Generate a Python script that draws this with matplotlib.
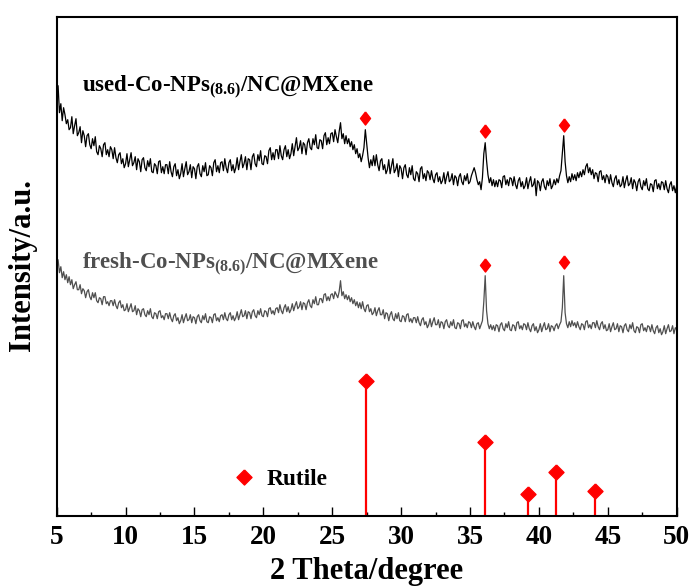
import numpy as np
import matplotlib
matplotlib.use("Agg")
import matplotlib.pyplot as plt
from matplotlib.lines import Line2D
from matplotlib.ticker import MultipleLocator

# ---------------- data ----------------
two_theta_start = 5.0
two_theta_stop = 50.0

# one row = 1 degree (0.1 degree steps), last value at 50.0
used_intensity = [
    418, 430, 403, 412, 395, 408, 401, 392, 396, 386,
    388, 399, 382, 390, 397, 380, 383, 389, 373, 385,
    380, 369, 380, 382, 371, 367, 377, 370, 379, 364,
    361, 370, 367, 359, 371, 373, 361, 366, 359, 369,
    366, 357, 368, 358, 353, 361, 363, 352, 357, 348,
    352, 362, 349, 356, 363, 350, 353, 359, 346, 357,
    354, 344, 356, 358, 348, 345, 355, 349, 357, 344,
    343, 352, 350, 342, 354, 355, 343, 349, 342, 351,
    351, 342, 354, 344, 339, 349, 352, 340, 346, 337,
    342, 352, 339, 347, 354, 341, 344, 351, 338, 349,
    347, 337, 349, 352, 342, 339, 350, 344, 353, 340,
    341, 350, 348, 340, 353, 356, 344, 350, 343, 353,
    354, 345, 357, 348, 343, 353, 356, 345, 351, 343,
    348, 358, 346, 354, 361, 348, 352, 359, 346, 357,
    356, 346, 359, 362, 352, 349, 361, 355, 365, 352,
    351, 360, 359, 352, 365, 368, 356, 363, 356, 366,
    366, 357, 370, 360, 356, 366, 370, 359, 366, 357,
    362, 372, 360, 369, 378, 365, 368, 375, 362, 373,
    371, 361, 373, 377, 368, 366, 377, 371, 381, 368,
    367, 376, 375, 367, 380, 383, 371, 378, 372, 382,
    383, 374, 386, 379, 373, 384, 393, 377, 382, 372,
    380, 372, 377, 369, 374, 366, 371, 362, 367, 358,
    362, 354, 360, 368, 386, 372, 358, 348, 356, 350,
    360, 350, 361, 351, 345, 355, 357, 346, 351, 342,
    346, 356, 342, 350, 357, 343, 346, 352, 339, 350,
    347, 337, 348, 351, 341, 338, 348, 341, 350, 337,
    335, 344, 342, 334, 347, 349, 337, 342, 335, 345,
    343, 336, 345, 337, 333, 341, 343, 334, 339, 332,
    335, 343, 332, 339, 344, 334, 336, 342, 331, 340,
    338, 330, 339, 342, 334, 331, 340, 335, 342, 332,
    334, 340, 344, 348, 343, 336, 331, 334, 326, 338,
    362, 373, 355, 341, 333, 338, 330, 336, 329, 335,
    329, 336, 335, 328, 339, 340, 331, 336, 330, 338,
    337, 330, 339, 331, 327, 335, 338, 329, 334, 327,
    330, 338, 327, 334, 339, 329, 331, 337, 320, 335,
    333, 325, 334, 337, 329, 326, 335, 330, 337, 327,
    330, 336, 331, 337, 333, 340, 345, 362, 380, 354,
    340, 333, 339, 334, 342, 336, 341, 335, 343, 338,
    344, 339, 346, 341, 349, 352, 343, 348, 341, 346,
    337, 343, 342, 334, 344, 345, 336, 340, 333, 341,
    339, 332, 341, 333, 329, 337, 340, 331, 336, 329,
    331, 339, 328, 335, 340, 330, 332, 338, 327, 336,
    333, 325, 334, 337, 329, 326, 335, 330, 337, 327,
    325, 332, 331, 324, 335, 336, 327, 332, 326, 334,
    333, 326, 335, 327, 323, 331, 334, 325, 330, 323,
    330,
]

fresh_intensity = [
    250, 256, 243, 249, 238, 244, 236, 241, 233, 239,
    231, 236, 227, 231, 234, 226, 226, 231, 222, 227,
    225, 218, 224, 226, 219, 216, 223, 218, 223, 215,
    213, 218, 217, 211, 219, 219, 212, 214, 210, 215,
    215, 210, 216, 210, 207, 213, 215, 208, 211, 205,
    206, 212, 204, 208, 212, 204, 205, 210, 201, 207,
    205, 199, 206, 207, 201, 199, 205, 201, 207, 199,
    197, 203, 202, 197, 204, 205, 198, 200, 196, 202,
    202, 197, 203, 197, 194, 200, 202, 195, 198, 192,
    195, 201, 193, 198, 202, 195, 196, 201, 193, 199,
    198, 192, 199, 201, 195, 193, 200, 196, 202, 194,
    193, 199, 198, 193, 201, 202, 195, 198, 194, 200,
    201, 196, 203, 197, 195, 201, 203, 196, 200, 195,
    198, 204, 196, 201, 206, 199, 200, 205, 197, 204,
    203, 197, 204, 206, 200, 198, 205, 201, 207, 200,
    199, 205, 204, 199, 207, 208, 202, 205, 201, 207,
    208, 203, 211, 205, 202, 208, 211, 204, 209, 203,
    206, 212, 205, 210, 214, 207, 209, 214, 206, 213,
    212, 206, 213, 216, 210, 208, 216, 212, 219, 211,
    211, 217, 217, 213, 221, 222, 215, 219, 215, 221,
    222, 217, 224, 221, 218, 224, 235, 220, 224, 217,
    221, 216, 220, 214, 218, 212, 216, 210, 214, 208,
    213, 207, 214, 207, 204, 210, 211, 204, 207, 201,
    203, 208, 200, 205, 208, 201, 201, 206, 197, 203,
    202, 195, 201, 204, 197, 195, 202, 197, 203, 195,
    194, 200, 199, 194, 201, 202, 194, 197, 193, 198,
    198, 193, 199, 193, 190, 196, 198, 191, 194, 188,
    191, 197, 189, 194, 198, 191, 191, 196, 188, 194,
    193, 187, 194, 196, 190, 188, 194, 190, 196, 188,
    187, 193, 192, 187, 195, 196, 189, 192, 188, 194,
    193, 188, 194, 189, 186, 192, 193, 187, 191, 195,
    214, 240, 205, 192, 187, 191, 186, 190, 185, 191,
    190, 184, 191, 193, 187, 185, 192, 188, 194, 186,
    185, 191, 190, 185, 193, 194, 187, 190, 186, 192,
    191, 186, 193, 187, 184, 190, 192, 185, 189, 183,
    186, 192, 184, 189, 193, 186, 187, 192, 184, 190,
    189, 185, 190, 192, 187, 191, 194, 208, 240, 203,
    192, 188, 194, 189, 195, 190, 193, 188, 194, 189,
    186, 192, 191, 186, 194, 195, 188, 191, 187, 193,
    193, 188, 195, 189, 186, 192, 194, 187, 191, 185,
    186, 192, 184, 189, 193, 186, 187, 192, 184, 190,
    189, 183, 190, 192, 186, 184, 191, 187, 193, 185,
    183, 189, 188, 183, 191, 192, 185, 188, 184, 190,
    189, 184, 191, 185, 182, 188, 190, 183, 187, 181,
    184, 190, 182, 187, 191, 184, 185, 190, 182, 188,
    186,
]

rutile_positions = [27.45, 36.09, 39.19, 41.23, 44.05]
rutile_heights = [135, 74, 22, 44, 25]

used_peak_positions = [27.4, 36.1, 41.8]
used_peak_heights = [398, 385, 391]
fresh_peak_positions = [36.1, 41.8]
fresh_peak_heights = [251, 254]

x_major_ticks = [5, 10, 15, 20, 25, 30, 35, 40, 45, 50]

used_label = r"used-Co-NPs$_{(8.6)}$/NC@MXene"
fresh_label = r"fresh-Co-NPs$_{(8.6)}$/NC@MXene"

# ---------------- style ----------------
plt.rcParams["font.family"] = ["Liberation Serif", "DejaVu Serif"]
plt.rcParams["font.weight"] = "bold"
plt.rcParams["mathtext.fontset"] = "custom"
plt.rcParams["mathtext.rm"] = "Liberation Serif:bold"
plt.rcParams["mathtext.bf"] = "Liberation Serif:bold"
plt.rcParams["mathtext.it"] = "Liberation Serif:bold:italic"
plt.rcParams["mathtext.default"] = "rm"

RED = "#ff0000"
GRAY = "#4f4f4f"

diamond = [(0, 1), (1, 0), (0, -1), (-1, 0), (0, 1)]
slim_diamond = [(0, 1), (0.77, 0), (0, -1), (-0.77, 0), (0, 1)]

fig = plt.figure(figsize=(6.93, 5.87), dpi=100)
ax = fig.add_axes([56.7 / 693, (587 - 515.7) / 587, 620 / 693, 499 / 587])

two_theta_used = np.linspace(two_theta_start, two_theta_stop, len(used_intensity))
two_theta_fresh = np.linspace(two_theta_start, two_theta_stop, len(fresh_intensity))

ax.plot(two_theta_used, used_intensity, color="black", lw=0.9)
ax.plot(two_theta_fresh, fresh_intensity, color=GRAY, lw=0.9)

ax.plot(used_peak_positions, used_peak_heights, ls="none", marker=slim_diamond,
        ms=9.4, color=RED, mec=RED)
ax.plot(fresh_peak_positions, fresh_peak_heights, ls="none", marker=slim_diamond,
        ms=9.4, color=RED, mec=RED)

ax.vlines(rutile_positions, 0, rutile_heights, color=RED, lw=1.6)
ax.plot(rutile_positions, rutile_heights, ls="none", marker=diamond, ms=10.8,
        color=RED, mec=RED, clip_on=False)

ax.text(6.84, 424, used_label, fontsize=16.5, fontweight="bold", color="black",
        ha="left", va="baseline")
ax.text(6.84, 247, fresh_label, fontsize=16.5, fontweight="bold", color=GRAY,
        ha="left", va="baseline")

handle = Line2D([], [], ls="none", marker=diamond, ms=10.8, color=RED, mec=RED)
ax.legend([handle], ["Rutile"], frameon=False, loc="center left",
          bbox_to_anchor=(0.283, 0.072), borderpad=0, borderaxespad=0,
          handlelength=1.0, handletextpad=0.49,
          prop={"family": "Liberation Serif", "weight": "bold", "size": 16.8})

ax.set_xlim(two_theta_start, two_theta_stop)
ax.set_ylim(0, 499)
ax.set_xticks(x_major_ticks)
ax.set_xticklabels([str(t) for t in x_major_ticks])
ax.xaxis.set_minor_locator(MultipleLocator(2.5))
ax.set_yticks([])
ax.tick_params(axis="x", which="major", direction="in", length=6.5, width=1.0,
               labelsize=19.5, pad=7, top=False)
ax.tick_params(axis="x", which="minor", direction="in", length=3, width=1.0,
               top=False)
for sp in ax.spines.values():
    sp.set_linewidth(1.5)

fig.text(366.7 / 693, 7.5 / 587, "2 Theta/degree", fontsize=22, fontweight="bold",
         ha="center", va="baseline")
fig.text(23 / 693, 0.548, "Intensity/a.u.", fontsize=22, fontweight="bold",
         rotation=90, ha="center", va="center")

fig.savefig("out.png", dpi=100)
